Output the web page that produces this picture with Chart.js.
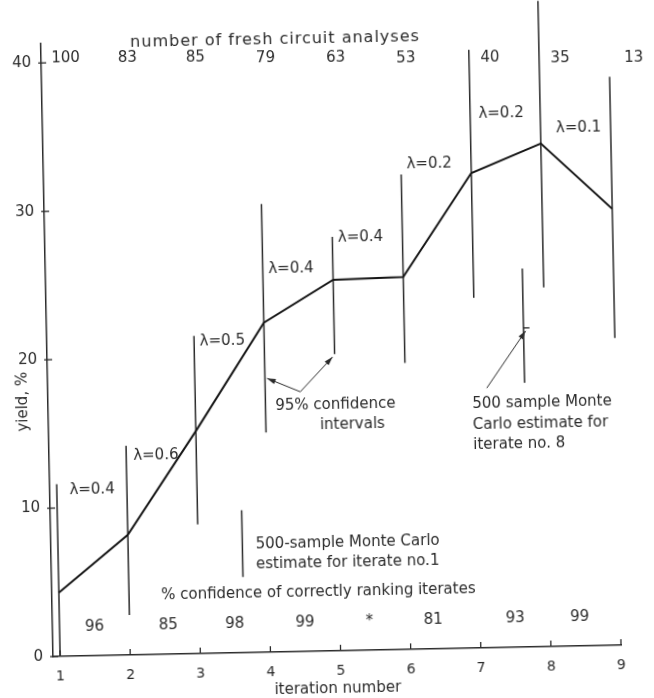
<!DOCTYPE html>
<html>
<head>
<meta charset="utf-8">
<script src="https://cdn.jsdelivr.net/npm/chart.js@4.4.0/dist/chart.umd.min.js"></script>
<style>
  html, body { margin: 0; padding: 0; background: #fff; overflow: hidden; }
  /* the scanned original sits slightly rotated */
  #wrap { width: 654px; height: 698px; transform: rotate(-1.15deg); transform-origin: 50% 50%; }
</style>
</head>
<body>
<div id="wrap"><canvas id="chart" width="654" height="698"></canvas></div>
<script>
/* data */
const iterations = [1, 2, 3, 4, 5, 6, 7, 8, 9];
const yieldPct   = [4.3, 8.1, 15.0, 22.2, 25.0, 25.1, 32.0, 33.9, 29.4];
const ciLow      = [0, 2.7, 8.7, 14.8, 20.0, 19.3, 23.6, 24.2, 20.7];
const ciHigh     = [11.6, 14.1, 21.4, 30.2, 27.9, 32.0, 40.3, 43.5, 38.3];
const freshAnalyses  = ['100', '83', '85', '79', '63', '53', '40', '35', '13'];
const freshX         = [1.25, 2.13, 3.1, 4.1, 5.1, 6.1, 7.3, 8.3, 9.35];
const rankConfidence = ['96', '85', '98', '99', '*', '81', '93', '99'];
const rankX          = [1.5, 2.55, 3.5, 4.5, 5.42, 6.33, 7.5, 8.42];
const stepLambda     = ['0.4', '0.6', '0.5', '0.4', '0.4', '0.2', '0.2', '0.1'];
const lambdaX        = [1.18, 2.1, 3.08, 4.08, 5.08, 6.08, 7.12, 8.22];
const lambdaY        = [11.2, 13.4, 21.0, 25.8, 27.8, 32.7, 36.0, 34.9];
// 500-sample Monte Carlo checks (iterate 1 and iterate 8)
const mcX    = [3.63, 7.70];
const mcLow  = [5.1, 17.8];
const mcHigh = [9.6, 25.5];
const mcEstimate8 = 21.5;

const yTicks = [0, 10, 20, 30, 40];

const FONT = '"DejaVu Sans", sans-serif';
const INK = '#2b2b2b';
const TILT = 0.02; // rotation of the page, radians

// vertical bars as one line dataset broken by gaps
function bars(xs, lo, hi) {
  const pts = [];
  xs.forEach((x, i) => {
    pts.push({ x, y: lo[i] }, { x, y: hi[i] }, { x, y: null });
  });
  return pts;
}

function arrow(ctx, x1, y1, x2, y2) {
  const a = Math.atan2(y2 - y1, x2 - x1);
  ctx.beginPath();
  ctx.moveTo(x1, y1);
  ctx.lineTo(x2, y2);
  ctx.stroke();
  ctx.beginPath();
  ctx.moveTo(x2, y2);
  ctx.lineTo(x2 - 9 * Math.cos(a - 0.3), y2 - 9 * Math.sin(a - 0.3));
  ctx.lineTo(x2 - 9 * Math.cos(a + 0.3), y2 - 9 * Math.sin(a + 0.3));
  ctx.closePath();
  ctx.fill();
}

const annotations = {
  id: 'annotations',
  afterDraw(chart) {
    const { ctx, chartArea } = chart;
    const xs = chart.scales.x, ys = chart.scales.y;
    const px = v => xs.getPixelForValue(v);
    const py = v => ys.getPixelForValue(v);

    ctx.save();
    ctx.strokeStyle = INK;
    ctx.fillStyle = INK;
    ctx.lineWidth = 1.3;

    // inward ticks
    iterations.forEach(v => {
      ctx.beginPath();
      ctx.moveTo(px(v), chartArea.bottom);
      ctx.lineTo(px(v), chartArea.bottom - 6);
      ctx.stroke();
    });
    yTicks.forEach(v => {
      ctx.beginPath();
      ctx.moveTo(chartArea.left - 3, py(v));
      ctx.lineTo(chartArea.left + 5, py(v));
      ctx.stroke();
    });

    ctx.font = '15px ' + FONT;
    ctx.textBaseline = 'middle';

    // top row (kept level on the tilted page)
    ctx.textAlign = 'center';
    ctx.save();
    ctx.font = '16px ' + FONT;
    ctx.letterSpacing = '1px';
    ctx.fillText('number of fresh circuit analyses', px(4.24), chartArea.top + 1);
    ctx.restore();
    freshAnalyses.forEach((t, i) => {
      const x = px(freshX[i]);
      ctx.fillText(t, x, chartArea.top + 20 + (x - 327) * TILT);
    });

    // lambda step labels
    ctx.textAlign = 'left';
    stepLambda.forEach((t, i) => {
      ctx.fillText('\u03bb=' + t, px(lambdaX[i]), py(lambdaY[i]));
    });

    // bottom row: ranking confidence
    ctx.textAlign = 'center';
    ctx.fillText('% confidence of correctly ranking iterates', px(4.7), chartArea.bottom - 59);
    rankConfidence.forEach((t, i) => {
      ctx.fillText(t, px(rankX[i]), chartArea.bottom - 29);
    });

    // y title
    ctx.save();
    ctx.translate(chartArea.left - 25, py(17.2));
    ctx.rotate(-Math.PI / 2);
    ctx.fillText('yield, %', 0, 0);
    ctx.restore();

    // 95% confidence interval note
    ctx.textAlign = 'left';
    ctx.fillText('95% confidence', px(4.14), py(16.6));
    ctx.fillText('intervals', px(4.77), py(15.25));
    ctx.lineWidth = 1;
    arrow(ctx, px(4.5), py(17.5), px(4.03), py(18.45));
    arrow(ctx, px(4.5), py(17.5), px(4.97), py(19.8));

    // Monte Carlo notes
    ctx.fillText('500-sample Monte Carlo', px(3.82), py(7.3));
    ctx.fillText('estimate for iterate no.1', px(3.82), py(5.95));
    ctx.fillText('500 sample Monte', px(6.95), py(16.4));
    ctx.fillText('Carlo estimate for', px(6.95), py(15.05));
    ctx.fillText('iterate no. 8', px(6.95), py(13.7));
    arrow(ctx, px(7.16), py(17.5), px(7.73), py(mcEstimate8 - 0.2));

    ctx.restore();
  }
};

new Chart(document.getElementById('chart'), {
  type: 'line',
  data: {
    datasets: [
      {
        data: iterations.map((x, i) => ({ x, y: yieldPct[i] })),
        borderColor: '#151515',
        borderWidth: 2,
        pointRadius: 0,
        tension: 0,
      },
      {
        data: bars(iterations, ciLow, ciHigh),
        borderColor: INK,
        borderWidth: 1.5,
        pointRadius: 0,
        spanGaps: false,
        clip: false,
      },
      {
        data: bars(mcX, mcLow, mcHigh),
        borderColor: INK,
        borderWidth: 1.5,
        pointRadius: 0,
        spanGaps: false,
      },
      {
        data: [{ x: mcX[1], y: mcEstimate8 }],
        showLine: false,
        pointStyle: 'dash',
        pointRadius: 6,
        borderColor: INK,
        borderWidth: 1.3,
      },
    ],
  },
  options: {
    responsive: false,
    devicePixelRatio: 1,
    animation: false,
    layout: { padding: { left: 0, top: 38, right: 39, bottom: 0 } },
    plugins: { legend: { display: false }, tooltip: { enabled: false } },
    scales: {
      x: {
        type: 'linear',
        min: 0.9,
        max: 9,
        afterBuildTicks: s => { s.ticks = iterations.map(v => ({ value: v })); },
        afterFit: s => { s.height = 47; },
        grid: { display: false },
        border: { display: true, color: INK, width: 1.5 },
        ticks: { color: INK, font: { family: FONT, size: 14 }, padding: 4 },
        title: { display: true, text: 'iteration number', color: INK, font: { family: FONT, size: 15 }, padding: 0 },
      },
      y: {
        min: 0,
        max: 41.3,
        afterBuildTicks: s => { s.ticks = yTicks.map(v => ({ value: v })); },
        afterFit: s => { s.width = 47; },
        grid: { display: false },
        border: { display: true, color: INK, width: 1.5 },
        ticks: { color: INK, font: { family: FONT, size: 15 }, padding: 2 },
      },
    },
  },
  plugins: [annotations],
});
</script>
</body>
</html>
